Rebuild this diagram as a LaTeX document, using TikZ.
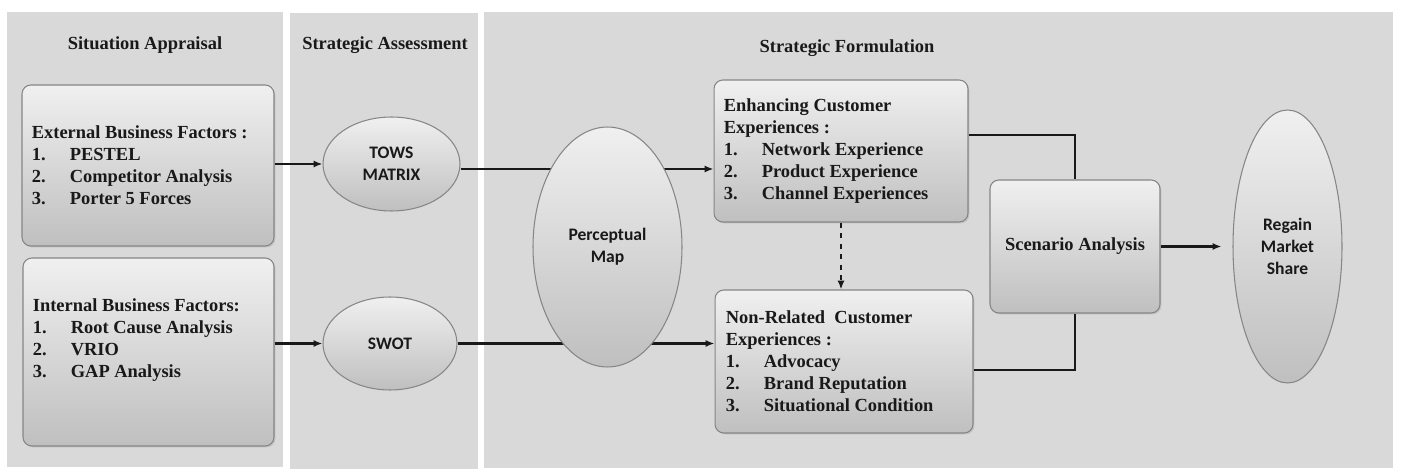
\documentclass[tikz,border=0pt]{standalone}
\usepackage{fontspec}
\setmainfont{Liberation Serif}
\newfontfamily\calfont{Carlito}
\usetikzlibrary{shapes.geometric,arrows.meta,calc,shadows}

\tikzset{
  panel/.style={fill=gray!30},
  card/.style={draw=gray!95, line width=0.6pt, rounded corners=5pt,
    top color=gray!12, bottom color=gray!50, inner sep=0pt,
    drop shadow={shadow xshift=0.8pt,shadow yshift=-0.8pt,opacity=0.25}},
  oval/.style={ellipse, draw=gray!95, line width=0.6pt,
    top color=gray!12, bottom color=gray!50, inner sep=0pt, align=center,
    font=\calfont\bfseries\fontsize{10}{12.5}\selectfont, text=black!90},
  list/.style={anchor=west, align=left, inner sep=0pt,
    font=\bfseries\fontsize{10.5}{12.5}\selectfont, text=black!90},
  head/.style={font=\bfseries\fontsize{10.5}{12.5}\selectfont, text=black!90},
  link/.style={line width=1.4pt, draw=black!90},
  arr/.style={link, -{Latex[length=5pt,width=4pt]}}
}
\newcommand{\itm}[2]{\makebox[0.76cm][l]{#1}#2}

\begin{document}
\begin{tikzpicture}[x=0.02cm,y=-0.02cm]
\useasboundingbox (0,0) rectangle (1401,476);

% panels
\fill[panel] (7,12) rectangle (283,467);
\fill[panel] (290,13) rectangle (478,469);
\fill[panel] (484,12) rectangle (1393,468);

\node[head] (situ) at (145,45) {Situation Appraisal};
\node[head] (asse) at (385,45) {Strategic Assessment};
\node[head] (form) at (847,48) {Strategic Formulation};

% situation appraisal
\node[card, minimum width=5.04cm, minimum height=3.22cm] (ext) at (148,165.5) {};
\node[list] (extlist) at ($(ext.west)+(10,0)$) {External Business Factors :\\
  \itm{1.}{PESTEL}\\ \itm{2.}{Competitor Analysis}\\ \itm{3.}{Porter 5 Forces}};

\node[card, minimum width=5.02cm, minimum height=3.76cm] (int) at (148.5,352) {};
\node[list] (intlist) at ($(int.west)+(10,-12)$) {Internal Business Factors:\\
  \itm{1.}{Root Cause Analysis}\\ \itm{2.}{VRIO}\\ \itm{3.}{GAP Analysis}};

% strategic assessment
\node[oval, minimum width=2.74cm, minimum height=1.88cm] (tows) at (391.5,164) {TOWS\\MATRIX};
\node[oval, minimum width=2.68cm, minimum height=1.86cm] (swot) at (390,343.5) {SWOT};

% strategic formulation
\node[card, minimum width=5.08cm, minimum height=2.84cm] (enh) at (841,151) {};
\node[list] (enhlist) at ($(enh.west)+(10,0)$) {Enhancing Customer\\ Experiences :\\
  \itm{1.}{Network Experience}\\ \itm{2.}{Product Experience}\\ \itm{3.}{Channel Experiences}};

\node[card, minimum width=5.16cm, minimum height=2.86cm] (nr) at (844,361.5) {};
\node[list] (nrlist) at ($(nr.west)+(11,0)$) {Non-Related\ \ Customer\\ Experiences :\\
  \itm{1.}{Advocacy}\\ \itm{2.}{Brand Reputation}\\ \itm{3.}{Situational Condition}};

\node[card, minimum width=3.4cm, minimum height=2.66cm, font=\bfseries\fontsize{10.5}{12.5}\selectfont,
  text=black!90] (scen) at (1075,246.5) {Scenario Analysis};
\node[oval, minimum width=2.18cm, minimum height=5.46cm] (regain) at (1287.5,246.5) {Regain\\Market\\Share};

% connectors
\draw[arr] (tows.west -| ext.east) -- (tows.west);
\draw[arr] (swot.west -| int.east) -- (swot.west);
\draw[arr] ([yshift=-0.1cm]tows.east) -- ([yshift=-0.1cm]tows.east -| enh.west);
\draw[arr] (swot.east) -- (swot.east -| nr.west);
\draw[arr, dashed] (enh.south) -- (enh.south |- nr.north);
\draw[link] ([yshift=0.32cm]enh.east) -| (scen.north);
\draw[link] ([yshift=-0.17cm]nr.east) -| (scen.south);
\draw[arr, shorten >=0.22cm] (scen.east) -- (regain.west);

\node[oval, minimum width=2.98cm, minimum height=4.8cm] (pmap) at (607.5,247) {Perceptual\\Map};

\end{tikzpicture}
\end{document}
